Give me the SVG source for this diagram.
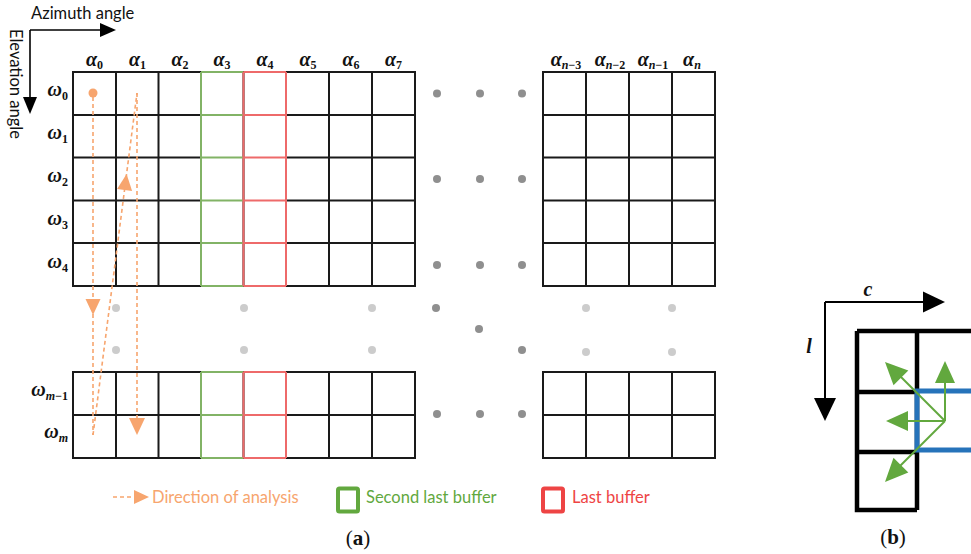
<svg xmlns="http://www.w3.org/2000/svg" width="971" height="554" viewBox="0 0 971 554">
  <style>
    .grid { fill: none; stroke: #1a1a1a; stroke-width: 2; }
    .g2 { fill: none; stroke: #82b366; stroke-width: 2; }
    .r2 { fill: none; stroke: #ee6a6a; stroke-width: 2; }
    .sym { font-family: "Liberation Serif", "DejaVu Serif", serif; font-weight: bold; font-style: italic; font-size: 20px; fill: #111; }
    .sub { font-size: 12px; font-style: normal; }
    .subi { font-size: 12px; font-style: italic; }
    .ax { font-family: Lato, "Liberation Sans", sans-serif; font-size: 16.5px; fill: #111; }
    .leg { font-family: Lato, "Liberation Sans", sans-serif; font-size: 16.5px; }
    .dk { fill: #8f8f8f; }
    .lt { fill: #cccccc; }
    .or { fill: none; stroke: #f7a56e; stroke-width: 1.6; stroke-dasharray: 4 3; }
    .orf { fill: #f7a56e; }
    .cap { font-family: "Liberation Serif", "DejaVu Serif", serif; font-size: 21px; fill: #111; }
  </style>

  <!-- axes of panel (a) -->
  <g id="axes-a">
    <text class="ax" x="31" y="19">Azimuth angle</text>
    <path d="M30 30 H101" stroke="#000" stroke-width="1.6" fill="none"/>
    <polygon points="100,23 116,30 100,37" fill="#000"/>
    <path d="M30 30 V98" stroke="#000" stroke-width="1.6" fill="none"/>
    <polygon points="23,97 37,97 30,114" fill="#000"/>
    <text class="ax" transform="translate(10,29) rotate(90)">Elevation angle</text>
  </g>

  <!-- left grid block: 8 columns x 5 rows -->
  <g id="grid-top-left">
    <rect class="grid" x="73" y="72" width="342" height="214"/>
    <path class="grid" d="M116 72V286 M158.5 72V286 M201 72V286 M243.5 72V286 M286 72V286 M329 72V286 M372 72V286"/>
    <path class="grid" d="M73 115H201 M286 115H415 M73 157.5H201 M286 157.5H415 M73 200.5H201 M286 200.5H415 M73 243H201 M286 243H415"/>
  </g>

  <!-- bottom-left grid block: 8 columns x 2 rows -->
  <g id="grid-bottom-left">
    <rect class="grid" x="73" y="372" width="342" height="86"/>
    <path class="grid" d="M116 372V458 M158.5 372V458 M201 372V458 M243.5 372V458 M286 372V458 M329 372V458 M372 372V458"/>
    <path class="grid" d="M73 415H201 M286 415H415"/>
  </g>

  <!-- second last buffer column -->
  <g id="buffer-second-last">
    <path class="g2" d="M201 72V286 M201 72H243.5 M201 115H243.5 M201 157.5H243.5 M201 200.5H243.5 M201 243H243.5 M201 286H243.5"/>
    <path class="g2" d="M201 372V458 M201 372H243.5 M201 415H243.5 M201 458H243.5"/>
  </g>

  <!-- last buffer column -->
  <g id="buffer-last">
    <path class="r2" d="M243.5 72V286 M286 72V286 M243.5 72H286 M243.5 115H286 M243.5 157.5H286 M243.5 200.5H286 M243.5 243H286 M243.5 286H286"/>
    <path class="r2" d="M243.5 372V458 M286 372V458 M243.5 372H286 M243.5 415H286 M243.5 458H286"/>
  </g>

  <!-- right grid blocks: 4 columns -->
  <g id="grid-top-right">
    <rect class="grid" x="543" y="72" width="172" height="214"/>
    <path class="grid" d="M586 72V286 M629 72V286 M672 72V286 M543 115H715 M543 157.5H715 M543 200.5H715 M543 243H715"/>
  </g>
  <g id="grid-bottom-right">
    <rect class="grid" x="543" y="372" width="172" height="86"/>
    <path class="grid" d="M586 372V458 M629 372V458 M672 372V458 M543 415H715"/>
  </g>

  <!-- column headers -->
  <g id="col-labels">
    <text class="sym" x="94.5" y="66" text-anchor="middle">α<tspan class="sub" dy="2.5">0</tspan></text>
    <text class="sym" x="137.5" y="66" text-anchor="middle">α<tspan class="sub" dy="2.5">1</tspan></text>
    <text class="sym" x="180" y="66" text-anchor="middle">α<tspan class="sub" dy="2.5">2</tspan></text>
    <text class="sym" x="222" y="66" text-anchor="middle">α<tspan class="sub" dy="2.5">3</tspan></text>
    <text class="sym" x="265" y="66" text-anchor="middle">α<tspan class="sub" dy="2.5">4</tspan></text>
    <text class="sym" x="308" y="66" text-anchor="middle">α<tspan class="sub" dy="2.5">5</tspan></text>
    <text class="sym" x="351" y="66" text-anchor="middle">α<tspan class="sub" dy="2.5">6</tspan></text>
    <text class="sym" x="393.5" y="66" text-anchor="middle">α<tspan class="sub" dy="2.5">7</tspan></text>
    <text class="sym" x="566" y="66" text-anchor="middle">α<tspan class="subi" dy="2.5">n</tspan><tspan class="sub">−3</tspan></text>
    <text class="sym" x="610" y="66" text-anchor="middle">α<tspan class="subi" dy="2.5">n</tspan><tspan class="sub">−2</tspan></text>
    <text class="sym" x="653" y="66" text-anchor="middle">α<tspan class="subi" dy="2.5">n</tspan><tspan class="sub">−1</tspan></text>
    <text class="sym" x="692" y="66" text-anchor="middle">α<tspan class="subi" dy="2.5">n</tspan></text>
  </g>

  <!-- row labels -->
  <g id="row-labels">
    <text class="sym" x="68" y="96" text-anchor="end">ω<tspan class="sub" dy="3.5">0</tspan></text>
    <text class="sym" x="68" y="139" text-anchor="end">ω<tspan class="sub" dy="3.5">1</tspan></text>
    <text class="sym" x="68" y="182" text-anchor="end">ω<tspan class="sub" dy="3.5">2</tspan></text>
    <text class="sym" x="68" y="225" text-anchor="end">ω<tspan class="sub" dy="3.5">3</tspan></text>
    <text class="sym" x="68" y="268" text-anchor="end">ω<tspan class="sub" dy="3.5">4</tspan></text>
    <text class="sym" x="68" y="396" text-anchor="end">ω<tspan class="subi" dy="3.5">m</tspan><tspan class="sub">−1</tspan></text>
    <text class="sym" x="68" y="438" text-anchor="end">ω<tspan class="subi" dy="3.5">m</tspan></text>
  </g>

  <!-- ellipsis dots -->
  <g id="dots">
    <circle class="dk" cx="437" cy="93.5" r="4"/><circle class="dk" cx="480" cy="93.5" r="4"/><circle class="dk" cx="522" cy="93.5" r="4"/>
    <circle class="dk" cx="437" cy="179" r="4"/><circle class="dk" cx="480" cy="179" r="4"/><circle class="dk" cx="522" cy="179" r="4"/>
    <circle class="dk" cx="437" cy="265" r="4"/><circle class="dk" cx="480" cy="265" r="4"/><circle class="dk" cx="522" cy="265" r="4"/>
    <circle class="dk" cx="437" cy="414" r="4"/><circle class="dk" cx="480" cy="414" r="4"/><circle class="dk" cx="522" cy="414" r="4"/>
    <circle class="dk" cx="436" cy="308" r="4"/><circle class="dk" cx="479" cy="329" r="4"/><circle class="dk" cx="522" cy="350" r="4"/>
    <circle class="lt" cx="116" cy="308" r="4"/><circle class="lt" cx="116" cy="350" r="4"/>
    <circle class="lt" cx="244" cy="308" r="4"/><circle class="lt" cx="244" cy="350" r="4"/>
    <circle class="lt" cx="372" cy="308" r="4"/><circle class="lt" cx="372" cy="350" r="4"/>
    <circle class="lt" cx="586" cy="308" r="4"/><circle class="lt" cx="586" cy="352" r="4"/>
    <circle class="lt" cx="672" cy="308" r="4"/><circle class="lt" cx="672" cy="352" r="4"/>
  </g>

  <!-- scan path -->
  <g id="connectors">
    <circle class="orf" cx="93" cy="93" r="4.5"/>
    <path class="or" d="M93 97 V435"/>
    <polygon class="orf" points="85.5,299 100.5,299 93,315"/>
    <path class="or" d="M93 435 L137 93"/>
    <polygon class="orf" points="126.6,174 132.1,190.9 117.1,188.9"/>
    <path class="or" d="M137 93 V420"/>
    <polygon class="orf" points="129,418 145,418 137,435"/>
  </g>

  <!-- legend -->
  <g id="legend">
    <path class="or" d="M113 497 H135"/>
    <polygon class="orf" points="134,490 149,497 134,504"/>
    <text class="leg" x="152" y="503" fill="#f7a56e">Direction of analysis</text>
    <rect x="338" y="488.5" width="20" height="23" rx="1.5" fill="none" stroke="#62a83e" stroke-width="4"/>
    <text class="leg" x="366" y="503" fill="#62a83e">Second last buffer</text>
    <rect x="543" y="488.5" width="20" height="23" rx="1.5" fill="none" stroke="#ee4444" stroke-width="4"/>
    <text class="leg" x="572" y="503" fill="#ee4444">Last buffer</text>
    <text class="cap" x="358" y="545" text-anchor="middle">(<tspan font-weight="bold">a</tspan>)</text>
  </g>

  <!-- panel (b) -->
  <g id="panel-b">
    <text class="sym" x="868" y="296" text-anchor="middle" font-size="22">c</text>
    <path d="M825 302 H924" stroke="#000" stroke-width="2" fill="none"/>
    <polygon points="923,291.5 945,302 923,312.5" fill="#000"/>
    <path d="M825 302 V399" stroke="#000" stroke-width="2" fill="none"/>
    <polygon points="814,398 836,398 825,421" fill="#000"/>
    <text class="sym" x="809" y="353" text-anchor="middle" font-size="22">l</text>

    <path d="M857 331 H975 M857 331 V510 H917 M917 331 V510 M857 392 H917 M857 452 H917" fill="none" stroke="#000" stroke-width="4.5"/>
    <rect x="917" y="391" width="70" height="59" fill="none" stroke="#2673ba" stroke-width="5"/>

    <g stroke="#62a83e" stroke-width="2" fill="none">
      <path d="M945 421 V380"/>
      <path d="M945 421 L898 374"/>
      <path d="M945 421 H905"/>
      <path d="M945 421 L898 468"/>
    </g>
    <g fill="#62a83e">
      <polygon points="945,361 955,383 935,383"/>
      <polygon points="885,362 908.3,370.5 893.5,385.3"/>
      <polygon points="886,421 908,411 908,431"/>
      <polygon points="885,482 893.5,457.7 908.3,472.5"/>
    </g>
    <text class="cap" x="893" y="544" text-anchor="middle">(<tspan font-weight="bold">b</tspan>)</text>
  </g>
</svg>
